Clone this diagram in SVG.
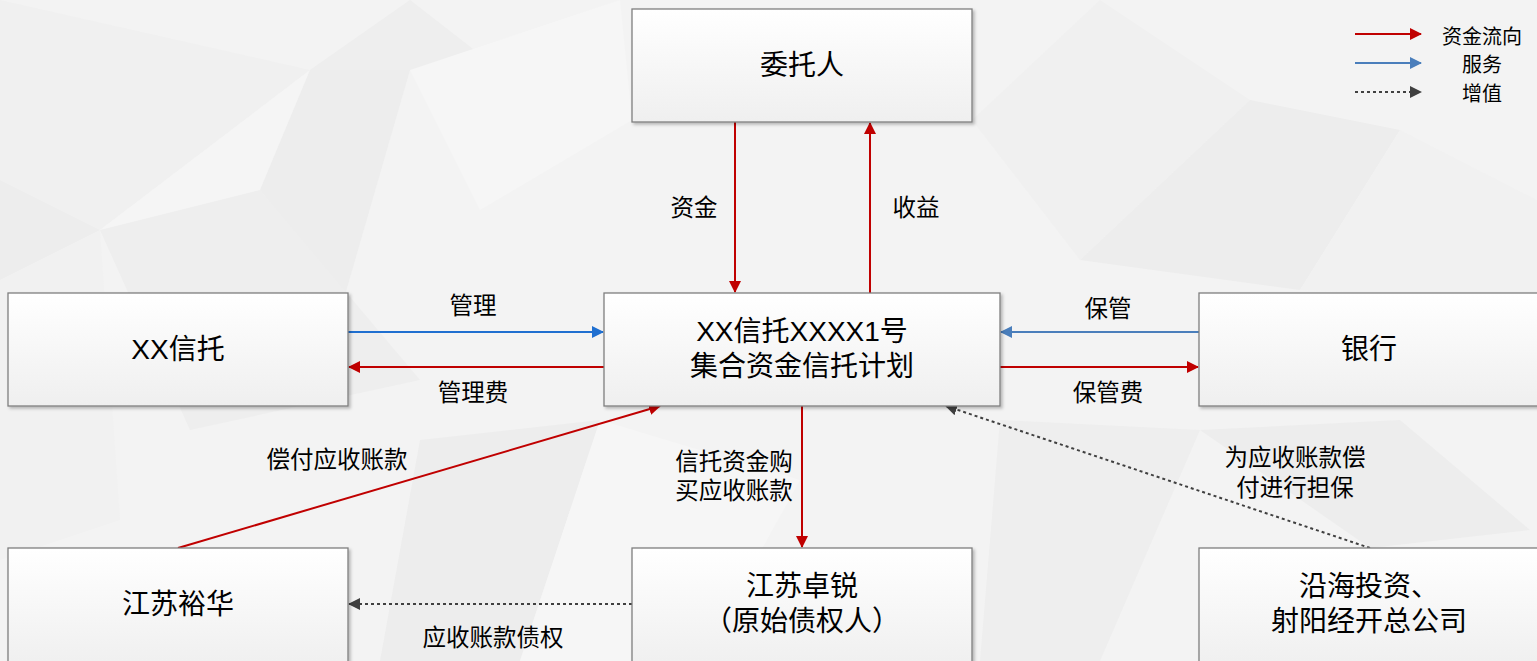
<svg xmlns="http://www.w3.org/2000/svg" width="1537" height="661" viewBox="0 0 1537 661">
<defs>
<linearGradient id="boxfill" x1="0" y1="0" x2="0" y2="1">
<stop offset="0" stop-color="#ffffff"/>
<stop offset="1" stop-color="#efefef"/>
</linearGradient>
<filter id="sh" x="-5%" y="-5%" width="110%" height="120%">
<feDropShadow dx="2" dy="2" stdDeviation="1.5" flood-color="#000" flood-opacity="0.25"/>
</filter>
<marker id="ar" markerWidth="12" markerHeight="12" refX="11" refY="6" orient="auto" markerUnits="userSpaceOnUse" viewBox="0 0 12 12">
<path d="M0,0 L12,6 L0,12 z" fill="#C00000"/>
</marker>
<marker id="ab" markerWidth="12" markerHeight="12" refX="11" refY="6" orient="auto" markerUnits="userSpaceOnUse" viewBox="0 0 12 12">
<path d="M0,0 L12,6 L0,12 z" fill="#1F6FD0"/>
</marker>
<marker id="as" markerWidth="12" markerHeight="12" refX="11" refY="6" orient="auto" markerUnits="userSpaceOnUse" viewBox="0 0 12 12">
<path d="M0,0 L12,6 L0,12 z" fill="#4A7EBB"/>
</marker>
<marker id="ag" markerWidth="12" markerHeight="12" refX="11" refY="6" orient="auto" markerUnits="userSpaceOnUse" viewBox="0 0 12 12">
<path d="M0,0 L12,6 L0,12 z" fill="#404040"/>
</marker>
</defs>
<style>
.box{fill:url(#boxfill);stroke:#7f7f7f;stroke-width:1.3;filter:url(#sh)}
.nt{font-family:"Liberation Sans","Noto Sans CJK SC",sans-serif;font-size:28px;fill:#000;text-anchor:middle}
.lb{font-family:"Liberation Sans","Noto Sans CJK SC",sans-serif;font-size:23.5px;fill:#000;text-anchor:middle}
.lg{font-family:"Liberation Sans","Noto Sans CJK SC",sans-serif;font-size:20px;fill:#000;text-anchor:middle}
.red{stroke:#C00000;stroke-width:2;fill:none;marker-end:url(#ar)}
.blue{stroke:#1F6FD0;stroke-width:2;fill:none;marker-end:url(#ab)}
.steel{stroke:#4A7EBB;stroke-width:2;fill:none;marker-end:url(#as)}
.dot{stroke:#404040;stroke-width:2;stroke-dasharray:3 3;fill:none;marker-end:url(#ag)}
</style>
<g id="background">
<rect x="0" y="0" width="1537" height="661" fill="#f3f3f3"/>
<polygon points="0,0 310,70 100,230 0,180" fill="#f0f0f0"/>
<polygon points="310,70 410,0 500,70" fill="#eeeeee"/>
<polygon points="100,230 310,70 260,190" fill="#f5f5f5"/>
<polygon points="310,70 410,70 345,295 260,190" fill="#ededed"/>
<polygon points="0,180 100,230 0,280" fill="#ededed"/>
<polygon points="100,230 260,190 420,380 190,430" fill="#eeeeee"/>
<polygon points="0,280 100,230 120,520 0,560" fill="#f1f1f1"/>
<polygon points="410,70 620,0 632,120 480,210" fill="#f6f6f6"/>
<polygon points="972,120 1100,0 1250,100 1080,260" fill="#f0f0f0"/>
<polygon points="1250,100 1400,130 1300,290 1080,260" fill="#ededed"/>
<polygon points="1400,130 1537,200 1537,300 1300,290" fill="#f1f1f1"/>
<polygon points="420,440 600,420 520,661 380,661" fill="#ededed"/>
<polygon points="1000,420 1200,430 1100,661 980,661" fill="#eeeeee"/>
<polygon points="1200,430 1400,420 1530,530 1370,548" fill="#ededed"/>
<polygon points="600,420 800,480 700,661 520,661" fill="#f6f6f6"/>
</g>
<g id="connectors">
<line class="red" x1="735" y1="122" x2="735" y2="292"/>
<line class="red" x1="870" y1="293" x2="870" y2="123"/>
<line class="blue" x1="348" y1="332" x2="603" y2="332"/>
<line class="red" x1="604" y1="367" x2="349" y2="367"/>
<line class="steel" x1="1199" y1="332" x2="1001" y2="332"/>
<line class="red" x1="1000" y1="367" x2="1198" y2="367"/>
<line class="red" x1="802" y1="406" x2="802" y2="547"/>
<line class="red" x1="178" y1="548" x2="660" y2="406"/>
<line class="dot" x1="632" y1="604" x2="349" y2="604"/>
<line class="dot" x1="1370" y1="548" x2="946" y2="406"/>
<text class="lb" x="694" y="216">资金</text>
<text class="lb" x="916" y="216">收益</text>
<text class="lb" x="473" y="314">管理</text>
<text class="lb" x="473" y="401">管理费</text>
<text class="lb" x="1108" y="317">保管</text>
<text class="lb" x="1108" y="401">保管费</text>
<text class="lb" x="734" y="470">信托资金购</text>
<text class="lb" x="734" y="499">买应收账款</text>
<text class="lb" x="337" y="468">偿付应收账款</text>
<text class="lb" x="493" y="646">应收账款债权</text>
<text class="lb" x="1295" y="466">为应收账款偿</text>
<text class="lb" x="1295" y="496">付进行担保</text>
</g>
<g id="legend">
<line class="red" x1="1355" y1="34" x2="1421" y2="34"/>
<line class="steel" x1="1355" y1="63" x2="1421" y2="63"/>
<line class="dot" x1="1355" y1="92" x2="1421" y2="92"/>
<text class="lg" x="1482" y="44">资金流向</text>
<text class="lg" x="1482" y="72">服务</text>
<text class="lg" x="1482" y="101">增值</text>
</g>
<g id="n-weituoren">
<rect class="box" x="632" y="9" width="340" height="113"/>
<text class="nt" x="802" y="75">委托人</text>
</g>
<g id="n-xxxintuo">
<rect class="box" x="8" y="293" width="340" height="113"/>
<text class="nt" x="178" y="359">XX信托</text>
</g>
<g id="n-plan">
<rect class="box" x="604" y="293" width="396" height="113"/>
<text class="nt" x="802" y="341">XX信托XXXX1号</text>
<text class="nt" x="802" y="376">集合资金信托计划</text>
</g>
<g id="n-bank">
<rect class="box" x="1199" y="293" width="345" height="113"/>
<text class="nt" x="1369" y="359">银行</text>
</g>
<g id="n-yuhua">
<rect class="box" x="8" y="548" width="340" height="120"/>
<text class="nt" x="178" y="614">江苏裕华</text>
</g>
<g id="n-zhuorui">
<rect class="box" x="632" y="548" width="340" height="120"/>
<text class="nt" x="802" y="596">江苏卓锐</text>
<text class="nt" x="802" y="631">（原始债权人）</text>
</g>
<g id="n-yanhai">
<rect class="box" x="1199" y="548" width="345" height="120"/>
<text class="nt" x="1369" y="596">沿海投资、</text>
<text class="nt" x="1369" y="631">射阳经开总公司</text>
</g>
</svg>
